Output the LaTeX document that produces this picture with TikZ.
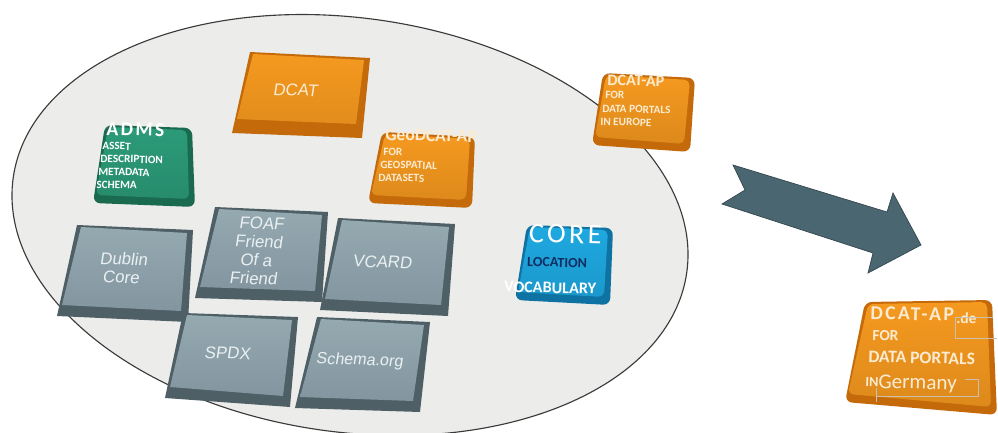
\documentclass[tikz,border=0pt]{standalone}
\usepackage{fontspec}
\setmainfont{Liberation Sans}
\newfontfamily\hum{Carlito}
\newfontfamily\humsp[LetterSpace=12]{Carlito}
\usetikzlibrary{calc}
\definecolor{ellFill}{HTML}{ECECEA}
\definecolor{ellLine}{HTML}{3A3A3A}
\definecolor{gLight}{HTML}{95A9B1}
\definecolor{gMid}{HTML}{8396A0}
\definecolor{gDark}{HTML}{4E5F66}
\definecolor{oMain}{HTML}{F5991F}
\definecolor{oDark}{HTML}{C46A0A}
\definecolor{grMain}{HTML}{2B9B78}
\definecolor{grDark}{HTML}{1A6A50}
\definecolor{bMain}{HTML}{1EA9E1}
\definecolor{bDark}{HTML}{0E72A2}
\definecolor{arrowC}{HTML}{4A6670}
\definecolor{navy}{HTML}{0E2E63}
\definecolor{gText}{HTML}{EAF0F2}
\definecolor{oText}{HTML}{FCEBD0}
\newcommand{\gtile}[4]{%
  \fill[gDark] #1 -- #2 -- #3 -- #4 -- cycle;
  \shade[top color=gLight, bottom color=gMid] ($#1+(4,2)$) -- ($#2+(-6,3)$) -- ($#3+(-7,-11)$) -- ($#4+(5,-11)$) -- cycle;}
\newcommand{\ctile}[6]{%
  \fill[#6, rounded corners=5pt] #1 -- #2 -- #3 -- #4 -- cycle;
  \shade[top color=#5, bottom color=#5!90!black, rounded corners=4pt] ($#1+(3,2)$) -- ($#2+(-5,2)$) -- ($#3+(-6,-8)$) -- ($#4+(3,-8)$) -- cycle;}
\tikzset{
  gtext/.style={font=\fontsize{12}{13}\selectfont, text=gText, align=center, inner sep=0pt, xslant=0.12, rotate=-2},
  ctext/.style={font=\hum\bfseries\fontsize{8}{9}\selectfont, text=white, inner sep=0pt, anchor=base west, rotate=-1.5},
  deco/.style={draw=oText!60!gray, line width=0.5pt}
}
\begin{document}
\begin{tikzpicture}[x=0.025cm, y=-0.025cm]
\useasboundingbox (0,0) rectangle (998,433);
\fill[white] (0,0) rectangle (998,433);
% ellipse
\filldraw[fill=ellFill, draw=ellLine, line width=0.8pt, rotate around={-8:(350,225)}] (350,225) ellipse [x radius=8.5cm, y radius=5.175cm];
% gray tiles
\gtile{(77,225)}{(193,230)}{(188,322)}{(57,316)}
\gtile{(215,207)}{(328,212)}{(322,302)}{(195,298)}
\gtile{(338,218)}{(455,224)}{(448,316)}{(320,310)}
\gtile{(183,313)}{(298,317)}{(290,407)}{(165,398)}
\gtile{(317,317)}{(430,322)}{(420,412)}{(295,408)}
% DCAT (sharp)
\fill[oDark] (250,52) -- (370,58) -- (362,138) -- (232,133) -- cycle;
\shade[top color=oMain, bottom color=oMain!92!black] (253,54) -- (364,60) -- (356,124) -- (237,119) -- cycle;
% coloured rounded tiles
\ctile{(105,125)}{(192,128)}{(195,207)}{(93,203)}{grMain}{grDark}
\ctile{(382,132)}{(475,137)}{(472,208)}{(368,203)}{oMain}{oDark}
\ctile{(603,73)}{(695,78)}{(690,152)}{(592,145)}{oMain}{oDark}
\ctile{(527,225)}{(613,228)}{(610,305)}{(515,300)}{bMain}{bDark}
\ctile{(865,302)}{(992,300)}{(997,415)}{(845,402)}{oMain}{oDark}
% arrow
\filldraw[fill=arrowC, draw=arrowC!70!black, line width=0.5pt] (733,165) -- (887,212) -- (893,193) -- (921,245) -- (868,273) -- (873,253) -- (722,204) -- (745,190) -- cycle;
% gray tile texts
\node[gtext] (dublin) at (123,268) {Dublin\\Core};
\node[gtext] (foaf) at (258,251) {FOAF\\Friend\\Of a\\Friend};
\node[gtext] (vcard) at (383,262) {VCARD};
\node[gtext] (spdx) at (228,353) {SPDX};
\node[gtext, font=\fontsize{11.5}{13}\selectfont] (schema) at (360,361) {Schema.org};
\node[gtext, text=oText] (dcat) at (296,90) {DCAT};
% ADMS
\node[ctext, font=\humsp\bfseries\fontsize{14}{14}\selectfont] (adms) at (106,135) {ADMS};
\node[ctext] (admsa) at (102,149.5) {ASSET};
\node[ctext] (admsb) at (100,162) {DESCRIPTION};
\node[ctext] (admsc) at (98,175) {METADATA};
\node[ctext] (admsd) at (96,188) {SCHEMA};
% GeoDCAT-AP
\node[ctext, text=oText, font=\hum\bfseries\fontsize{12.5}{12}\selectfont] (geo) at (385,140) {GeoDCAT-AP};
\node[ctext, text=oText] (geoa) at (383,155) {FOR};
\node[ctext, text=oText] (geob) at (380,168) {GEOSPATIAL};
\node[ctext, text=oText] (geoc) at (378,181) {DATASETS};
% DCAT-AP
\node[ctext, text=oText, font=\hum\bfseries\fontsize{11.5}{11}\selectfont] (dap) at (607,85) {DCAT-AP};
\node[ctext, text=oText] (dapa) at (605,98) {FOR};
\node[ctext, text=oText] (dapb) at (602,112) {DATA PORTALS};
\node[ctext, text=oText] (dapc) at (600,125) {IN EUROPE};
% CORE
\node[ctext, anchor=base, font=\humsp\fontsize{20}{20}\selectfont] (core) at (565,243) {CORE};
\node[ctext, anchor=base, text=navy, font=\hum\bfseries\fontsize{10}{10}\selectfont] (corea) at (557,267) {LOCATION};
\node[ctext, anchor=base, font=\hum\bfseries\fontsize{11.5}{11}\selectfont] (coreb) at (550,293) {VOCABULARY};
% DCAT-AP.de
\node[ctext, text=oText, font=\humsp\bfseries\fontsize{14}{14}\selectfont] (de) at (870,319) {DCAT-AP};
\node[ctext, text=oText, font=\hum\bfseries\fontsize{11}{11}\selectfont] (dea) at (956,323) {.de};
\node[ctext, text=oText, font=\hum\bfseries\fontsize{11}{11}\selectfont] (deb) at (872,340) {FOR};
\node[ctext, text=oText, font=\hum\bfseries\fontsize{12.5}{13}\selectfont] (dec) at (868,362) {DATA PORTALS};
\node[ctext, text=oText, font=\hum\bfseries\fontsize{10}{10}\selectfont] (ded) at (865,386) {IN};
\node[ctext, text=oText, font=\hum\fontsize{15}{15}\selectfont] (dee) at (878,388) {Germany};
\draw[deco] (993,317) -- (955,317) -- (955,338) -- (997,338);
\draw[deco] (965,379) -- (978,379) -- (978,396) -- (876,396);
\draw[deco] (876,388) -- (876,402);
\end{tikzpicture}
\end{document}
